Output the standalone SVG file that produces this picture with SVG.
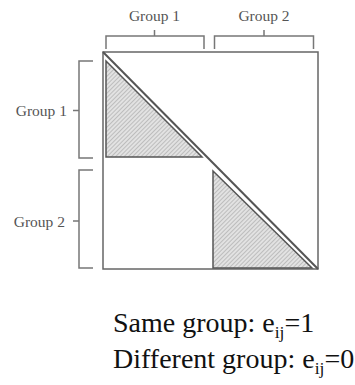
<svg xmlns="http://www.w3.org/2000/svg" width="355" height="385" viewBox="0 0 355 385">
<style>
.lbl{font-family:"Liberation Serif","Times New Roman",serif;font-size:15.5px;fill:#555}
.br{fill:none;stroke:#777;stroke-width:1.5}
.tri{fill:url(#hatch);stroke:#555;stroke-width:1.5;stroke-linejoin:miter}
.cap{font-family:"Liberation Serif","Times New Roman",serif;font-size:28px;fill:#111}
</style>
<defs>
<pattern id="hatch" patternUnits="userSpaceOnUse" width="3" height="3" patternTransform="rotate(45)">
<rect width="3" height="3" fill="#e2e2e2"/>
<line x1="0" y1="0" x2="0" y2="3" stroke="#999" stroke-width="1"/>
</pattern>
</defs>
<rect width="355" height="385" fill="#fff"/>
<g id="matrix">
<rect x="103" y="52" width="215" height="217" fill="none" stroke="#666" stroke-width="1.5"/>
</g>
<g id="block1">
<polygon class="tri" points="106,61 106,157 202,157"/>
</g>
<g id="block2">
<polygon class="tri" points="213,171 213,268 312,268"/>
</g>
<g id="connectors">
<line x1="103" y1="52" x2="318" y2="269" stroke="#555" stroke-width="2"/>
<path class="br" d="M106,49 V36 H204 V49 M154.5,36 V30"/>
<path class="br" d="M214.5,49 V36 H313.5 V49 M264,36 V30"/>
<path class="br" d="M93,61 H79 V158 H93 M79,110.5 H73"/>
<path class="br" d="M93,170 H79 V268 H93 M79,221 H73"/>
</g>
<g id="labels">
<text class="lbl" x="154.5" y="20.5" text-anchor="middle">Group 1</text>
<text class="lbl" x="264" y="20.5" text-anchor="middle">Group 2</text>
<text class="lbl" x="67" y="116" text-anchor="end">Group 1</text>
<text class="lbl" x="65" y="226.5" text-anchor="end">Group 2</text>
</g>
<g id="caption">
<text class="cap" x="113" y="331.5">Same group: e<tspan font-size="17.5" dy="6">ij</tspan><tspan dy="-6">=1</tspan></text>
<text class="cap" x="113" y="368">Different group: e<tspan font-size="17.5" dy="6">ij</tspan><tspan dy="-6">=0</tspan></text>
</g>
</svg>
